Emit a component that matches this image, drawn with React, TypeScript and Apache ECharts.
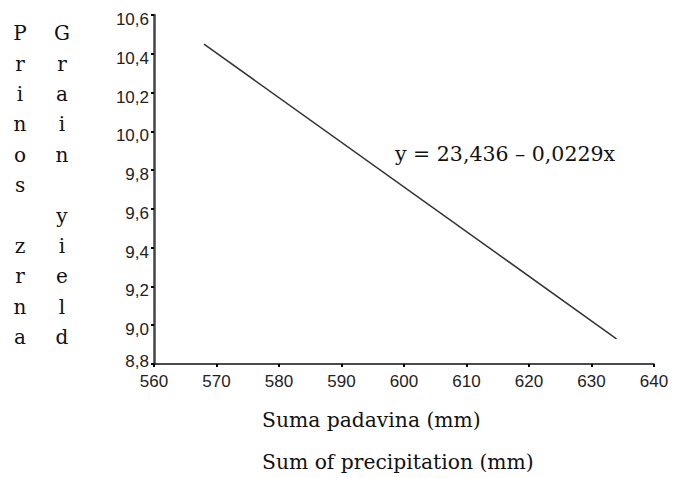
import React, { useEffect, useRef } from "react";
import * as echarts from "echarts";

const xTicks = [560, 570, 580, 590, 600, 610, 620, 630, 640];
const yTicks = [8.8, 9.0, 9.2, 9.4, 9.6, 9.8, 10.0, 10.2, 10.4, 10.6];
const regressionLine: [number, number][] = [
  [568, 10.45],
  [634, 8.93],
];
const equationText = "y = 23,436 – 0,0229x";
const yTitleLocal = "Prinos zrna";
const yTitleEnglish = "Grain yield";
const xTitleLocal = "Suma padavina (mm)";
const xTitleEnglish = "Sum of precipitation (mm)";

const SERIF = "'DejaVu Serif', serif";
const SANS = "'Liberation Sans', Arial, sans-serif";

export default function App() {
  const ref = useRef<HTMLDivElement>(null);
  useEffect(() => {
    if (!ref.current) return;
    const chart = echarts.init(ref.current, null, { renderer: "svg" });
    const vertical = (s: string) => s.split("").join("\n");
    const yMin = yTicks[0];
    chart.setOption({
      animation: false,
      backgroundColor: "#ffffff",
      grid: { left: 154, top: 15, right: 20, bottom: 114, containLabel: false },
      xAxis: {
        type: "value",
        min: xTicks[0],
        max: xTicks[xTicks.length - 1],
        interval: 10,
        axisLine: { show: true, lineStyle: { color: "#111", width: 1.5 } },
        axisTick: { show: true, length: 3, lineStyle: { color: "#000", width: 2 } },
        splitLine: { show: false },
        axisLabel: {
          margin: 9,
          color: "#222",
          fontFamily: SANS,
          fontSize: 17,
        },
      },
      yAxis: {
        type: "value",
        min: yMin,
        max: yTicks[yTicks.length - 1],
        interval: 0.2,
        axisLine: { show: true, lineStyle: { color: "#444", width: 2.5 } },
        axisTick: { show: true, length: 3, lineStyle: { color: "#000", width: 2 } },
        splitLine: { show: false },
        axisLabel: {
          margin: 5,
          formatter: (v: number) => {
            const s = v.toFixed(1).replace(".", ",");
            return Math.abs(v - yMin) < 1e-6 ? "{m|" + s + "}" : "{v|" + s + "}";
          },
          rich: {
            v: {
              color: "#222",
              fontFamily: SANS,
              fontSize: 17,
              padding: [9, 0, 0, 0],
            },
            m: {
              color: "#222",
              fontFamily: SANS,
              fontSize: 17,
              padding: [0, 0, 5, 0],
            },
          },
        },
      },
      series: [
        {
          type: "line",
          data: regressionLine,
          symbol: "none",
          lineStyle: { color: "#333", width: 1.5 },
        },
      ],
      graphic: [
        {
          type: "text",
          left: 395,
          top: 143,
          style: { text: equationText, font: `20.5px ${SERIF}`, fill: "#111" },
        },
        {
          type: "text",
          x: 20,
          y: 18,
          style: {
            text: vertical(yTitleLocal),
            font: `20px ${SERIF}`,
            lineHeight: 30.4,
            align: "center",
            fill: "#111",
          },
        },
        {
          type: "text",
          x: 62,
          y: 18,
          style: {
            text: vertical(yTitleEnglish),
            font: `20px ${SERIF}`,
            lineHeight: 30.4,
            align: "center",
            fill: "#111",
          },
        },
        {
          type: "text",
          left: 262,
          top: 410,
          style: { text: xTitleLocal, font: `20.3px ${SERIF}`, fill: "#111" },
        },
        {
          type: "text",
          left: 262,
          top: 452,
          style: { text: xTitleEnglish, font: `20.3px ${SERIF}`, fill: "#111" },
        },
      ],
    });
    return () => chart.dispose();
  }, []);
  return (
    <div
      ref={ref}
      style={{ position: "fixed", left: 0, top: 0, width: 674, height: 478 }}
    />
  );
}
